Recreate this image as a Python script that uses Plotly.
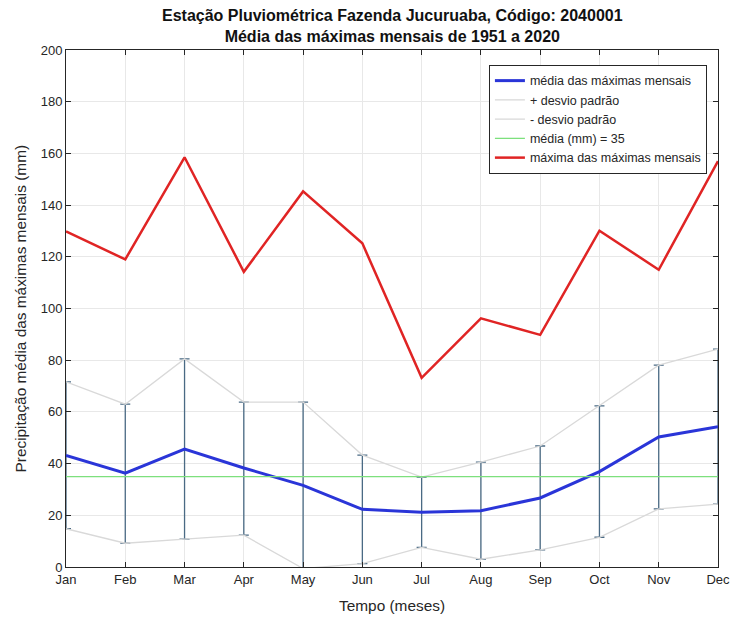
import plotly.graph_objects as go

meses = ["Jan", "Feb", "Mar", "Apr", "May", "Jun", "Jul", "Aug", "Sep", "Oct", "Nov", "Dec"]
media_maximas = [43.2, 36.3, 45.6, 38.3, 31.6, 22.3, 21.2, 21.8, 26.7, 36.9, 50.3, 54.3]
mais_desvio = [71.6, 63.0, 80.5, 63.8, 63.8, 43.3, 34.8, 40.6, 46.8, 62.3, 78.1, 84.3]
menos_desvio = [14.8, 9.2, 10.8, 12.3, -0.6, 1.3, 7.6, 3.0, 6.6, 11.5, 22.5, 24.3]
maxima_maximas = [129.8, 119.0, 158.5, 114.2, 145.3, 125.2, 73.2, 96.2, 89.8, 130.1, 115.0, 157.0]
media_geral = 35

x_idx = list(range(len(meses)))

font_family = "Liberation Sans, Arial, sans-serif"

fig = go.Figure()

# error bars (mean +/- std)
fig.add_trace(go.Scatter(
    x=x_idx, y=media_maximas, mode="markers",
    marker=dict(size=1, color="rgba(0,0,0,0)"),
    error_y=dict(type="data", symmetric=False,
                 array=[u - m for u, m in zip(mais_desvio, media_maximas)],
                 arrayminus=[m - l for m, l in zip(media_maximas, menos_desvio)],
                 color="#4a6a84", thickness=1.3, width=5),
    showlegend=False, hoverinfo="skip",
))

fig.add_trace(go.Scatter(
    x=x_idx, y=media_maximas, mode="lines", name="média das máximas mensais",
    line=dict(color="#2a35d8", width=3),
))
fig.add_trace(go.Scatter(
    x=x_idx, y=mais_desvio, mode="lines", name="+ desvio padrão",
    line=dict(color="#d9d9d9", width=1.3),
))
fig.add_trace(go.Scatter(
    x=x_idx, y=menos_desvio, mode="lines", name="- desvio padrão",
    line=dict(color="#d9d9d9", width=1.3),
))
fig.add_trace(go.Scatter(
    x=x_idx, y=[media_geral] * len(meses), mode="lines", name="média (mm) = 35",
    line=dict(color="#7de07d", width=1.3),
))
fig.add_trace(go.Scatter(
    x=x_idx, y=maxima_maximas, mode="lines", name="máxima das máximas mensais",
    line=dict(color="#e02424", width=2.5),
))

fig.update_layout(
    width=732, height=617,
    margin=dict(l=66, r=14, t=50, b=50, autoexpand=False),
    paper_bgcolor="white", plot_bgcolor="white",
    font=dict(family=font_family, size=13, color="#262626"),
    legend=dict(
        x=0.983, xanchor="right", y=0.971, yanchor="top",
        bgcolor="white", bordercolor="#262626", borderwidth=1,
        font=dict(size=12.5, color="#262626", family=font_family),
        tracegroupgap=0, itemwidth=30,
    ),
    showlegend=True,
    annotations=[
        dict(text="<b>Estação Pluviométrica Fazenda Jucuruaba, Código: 2040001<br>Média das máximas mensais de 1951 a 2020</b>",
             xref="paper", yref="paper", x=0.5, y=1 + 3 / 517,
             xanchor="center", yanchor="bottom", showarrow=False,
             font=dict(size=16, color="#111111", family=font_family)),
        dict(text="Tempo (meses)", xref="paper", yref="paper", x=0.5, y=-38 / 517,
             xanchor="center", yanchor="middle", showarrow=False,
             font=dict(size=15.4, color="#262626", family=font_family)),
        dict(text="Precipitação média das máximas mensais (mm)", xref="paper", yref="paper",
             x=-46 / 652, y=0.5, xanchor="center", yanchor="middle", textangle=-90,
             showarrow=False, font=dict(size=15.4, color="#262626", family=font_family)),
    ],
)

fig.update_xaxes(
    range=[0, 11], tickmode="array", tickvals=x_idx, ticktext=meses,
    showgrid=True, gridcolor="#e8e8e8", gridwidth=1,
    showline=True, linecolor="#262626", linewidth=1, mirror="ticks",
    ticks="inside", ticklen=5, tickcolor="#262626",
    zeroline=False, tickfont=dict(size=13), automargin=False,
)
fig.update_yaxes(
    range=[0, 200], tickmode="linear", tick0=0, dtick=20,
    showgrid=True, gridcolor="#e8e8e8", gridwidth=1,
    showline=True, linecolor="#262626", linewidth=1, mirror="ticks",
    ticks="inside", ticklen=5, tickcolor="#262626",
    zeroline=False, tickfont=dict(size=13), automargin=False,
)

fig.write_html(
    "out.html",
    config=dict(displayModeBar=False),
    post_script="document.body.style.margin='0';document.body.style.overflow='hidden';",
)
